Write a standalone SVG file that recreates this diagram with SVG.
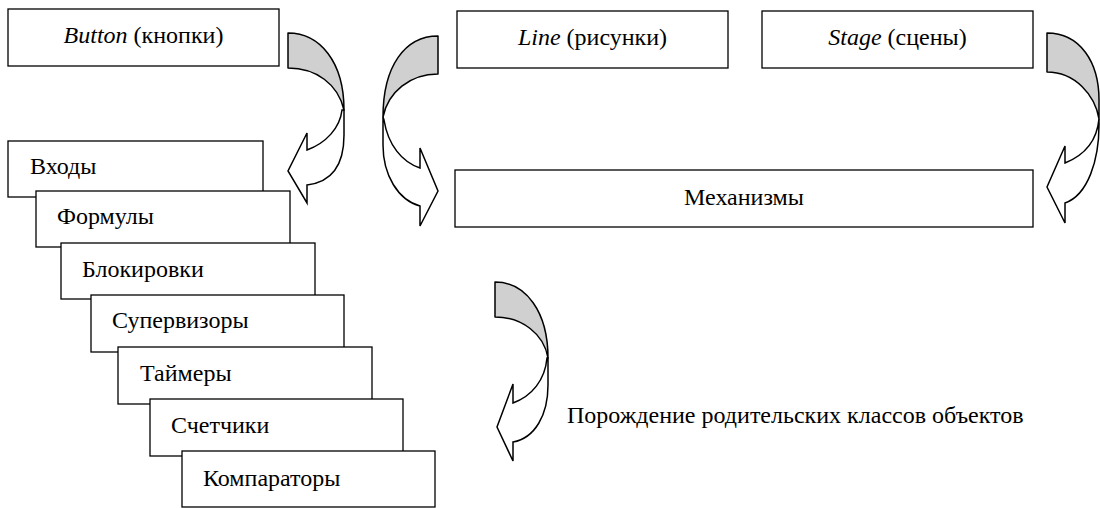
<svg xmlns="http://www.w3.org/2000/svg" width="1100" height="508" viewBox="0 0 1100 508">
<style>
.box{fill:#fff;stroke:#000;stroke-width:1.3}
text{font-family:'Liberation Serif','Times New Roman','DejaVu Serif',serif;font-size:24px;fill:#000}
.i{font-style:italic}
.back{fill:#d0d0d0;stroke:#000;stroke-width:1.5;stroke-linejoin:round}
.front{fill:#fff;stroke:#000;stroke-width:1.5;stroke-linejoin:miter}
</style>
<rect width="1100" height="508" fill="#fff"/>
<g id="button">
<rect class="box" x="8" y="9" width="271" height="57"/>
<text x="143.5" y="43" text-anchor="middle"><tspan class="i">Button</tspan> (кнопки)</text>
</g>
<g id="line">
<rect class="box" x="457" y="11" width="271" height="57"/>
<text x="592.5" y="45" text-anchor="middle"><tspan class="i">Line</tspan> (рисунки)</text>
</g>
<g id="stage">
<rect class="box" x="762" y="11" width="271" height="57"/>
<text x="897.5" y="45" text-anchor="middle"><tspan class="i">Stage</tspan> (сцены)</text>
</g>
<g id="mechanisms">
<rect class="box" x="455" y="170" width="578" height="57"/>
<text x="744" y="205" text-anchor="middle">Механизмы</text>
</g>
<g id="inputs">
<rect class="box" x="8" y="141" width="255" height="56"/>
<text x="30" y="174">Входы</text>
</g>
<g id="formulas">
<rect class="box" x="36" y="191" width="254" height="56"/>
<text x="57" y="224">Формулы</text>
</g>
<g id="locks">
<rect class="box" x="61" y="243" width="254" height="56"/>
<text x="82" y="277">Блокировки</text>
</g>
<g id="supervisors">
<rect class="box" x="91" y="295" width="253" height="57"/>
<text x="112" y="328">Супервизоры</text>
</g>
<g id="timers">
<rect class="box" x="118" y="347" width="254" height="57"/>
<text x="140" y="381">Таймеры</text>
</g>
<g id="counters">
<rect class="box" x="150" y="399" width="253" height="57"/>
<text x="171" y="433">Счетчики</text>
</g>
<g id="comparators">
<rect class="box" x="182" y="451" width="253" height="56"/>
<text x="203" y="486">Компараторы</text>
</g>
<g id="connectors">
<g id="arrow-button-inputs">
<path class="back" d="M288,33 C320,33 344,62 344,110 C338,84 316,68 288,68 Z"/>
<path class="front" d="M344,110 L344,135 C344,165 332,182 307,185 L307,203 L288,171 L307,133 L307,150 C326,143 340,128 342,110 Z"/>
</g>
<g id="arrow-line-mechanisms">
<path class="back" d="M438,36 C405,36 383,66 383,117 C388,92 410,74 438,74 Z"/>
<path class="front" d="M383,117 L383,145 C383,175 398,200 420,206 L420,226 L438,191 L420,148 L420,168 C402,162 388,145 384,120 Z"/>
</g>
<g id="arrow-stage-mechanisms">
<path class="back" d="M1047,33 C1080,33 1099,62 1099,100 L1099,119 C1095,95 1075,72 1047,72 Z"/>
<path class="front" d="M1099,119 L1099,125 C1099,160 1088,195 1065,203 L1065,223 L1047,187 L1065,146 L1065,163 C1085,155 1097,140 1099,119 Z"/>
</g>
<g id="arrow-generation">
<path class="back" d="M495,282 C526,282 548,312 548,358 C544,334 522,317 495,317 Z"/>
<path class="front" d="M548,358 L548,385 C548,415 535,438 513,442 L513,461 L497,427 L513,384 L513,403 C532,396 545,380 547,358 Z"/>
</g>
</g>
<g id="label">
<text x="567" y="423">Порождение родительских классов объектов</text>
</g>
</svg>
